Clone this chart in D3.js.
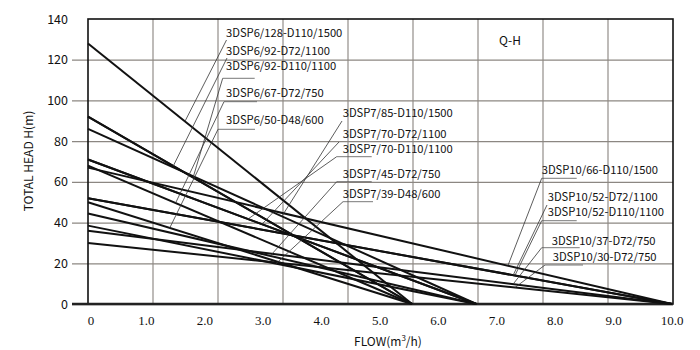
<!DOCTYPE html>
<html>
<head>
<meta charset="utf-8">
<script src="https://cdn.jsdelivr.net/npm/d3@7"></script>
<style>
  body { margin: 0; background: #fff; }
  svg text { font-family: "Noto Sans CJK SC", "Noto Sans", sans-serif; fill: #111; }
  .xtick { font-family: "Liberation Serif", serif !important; }
</style>
</head>
<body>
<div id="qh-chart"></div>
<script>
// ---- data ----
const models = [
  "3DSP6/128-D110/1500", "3DSP6/92-D72/1100", "3DSP6/92-D110/1100", "3DSP6/67-D72/750", "3DSP6/50-D48/600",
  "3DSP7/85-D110/1500", "3DSP7/70-D72/1100", "3DSP7/70-D110/1100", "3DSP7/45-D72/750", "3DSP7/39-D48/600",
  "3DSP10/66-D110/1500", "3DSP10/52-D72/1100", "3DSP10/52-D110/1100", "3DSP10/37-D72/750", "3DSP10/30-D72/750"
];
const shutoffHeads = [128, 92, 92, 68, 50, 86, 71, 71, 44.5, 38.5, 67, 52, 52, 36, 30]; // H at Q=0
const maxFlows = [5.55, 5.55, 5.55, 5.55, 5.55, 6.65, 6.65, 6.65, 6.65, 6.65, 10, 10, 10, 10, 10]; // Q at H=0
const leaderFlows = [1.66, 1.46, 1.8, 1.5, 1.4, 3.32, 2.98, 2.74, 3.12, 3.22, 7.19, 7.28, 7.31, 7.28, 7.31];
const flowTicks = [0, 1, 2, 3, 4, 5, 6, 7, 8, 9, 10];
const headTicks = [0, 20, 40, 60, 80, 100, 120, 140];

// label layout: text x, baseline y, leader start x, leader start y, underline length
const labelLayout = [
  [226, 37, 226.5, 40, 0], [226, 55, 227, 58, 0], [226, 70, 222.7, 78.3, 32],
  [226, 97, 224, 101.7, 33], [226, 123.5, 218, 129.3, 37],
  [342.7, 117, 342, 121, 0], [342.7, 137.5, 339, 142, 0], [342.7, 152.5, 336.7, 156.7, 35],
  [342.7, 178, 336.7, 181.7, 35], [342.7, 198, 343, 201.7, 30],
  [541.7, 174, 541.7, 178.3, 35], [547.7, 200.5, 547, 205, 0], [547.7, 215.5, 541.7, 220.7, 35],
  [551.7, 244.5, 541.7, 247.7, 38], [552.7, 261, 545, 265, 38]
];

function drawChart () {
  const svgWidth = 700, svgHeight = 350;
  const plot = { left: 88, right: 673, top: 19, bottom: 304 };

  const svg = d3.select( "#qh-chart" )
    .append( "svg" )
    .attr( "width", svgWidth )
    .attr( "height", svgHeight );

  svg.append( "rect" ).attr( "width", svgWidth ).attr( "height", svgHeight ).attr( "fill", "#fff" );

  const xScale = d3.scaleLinear().domain( [ 0, 10 ] ).range( [ plot.left, plot.right - 1 ] );
  const yScale = d3.scaleLinear().domain( [ 0, 140 ] ).range( [ plot.bottom, plot.top ] );
  // the sheet's vertical grid has 9 equal columns, not tied to the flow ticks
  const gridScale = d3.scaleLinear().domain( [ 0, 9 ] ).range( [ plot.left, plot.right ] );

  // vertical grid
  svg.append( "g" )
    .selectAll( "line" )
    .data( d3.range( 1, 9 ) )
    .enter().append( "line" )
    .attr( "x1", d => gridScale( d ) ).attr( "x2", d => gridScale( d ) )
    .attr( "y1", plot.top ).attr( "y2", plot.bottom )
    .attr( "stroke", "#9b9793" ).attr( "stroke-width", 1.3 );

  // horizontal grid + ticks, left axis labels
  const yAxis = svg.append( "g" )
    .attr( "transform", `translate(${plot.right}, 0)` )
    .call( d3.axisLeft( yScale )
      .tickValues( headTicks.filter( d => d < 140 ) )
      .tickSize( plot.right - 72 )
      .tickFormat( "" ) );
  yAxis.select( ".domain" ).remove();
  yAxis.selectAll( ".tick line" ).attr( "stroke", "#8c8782" ).attr( "stroke-width", 1.3 );

  svg.append( "g" )
    .selectAll( "text" )
    .data( headTicks )
    .enter().append( "text" )
    .attr( "x", 68 ).attr( "y", d => yScale( d ) + 4.5 )
    .attr( "text-anchor", "end" )
    .style( "font-size", "12.5px" )
    .text( d => d );

  // x tick labels
  svg.append( "g" )
    .selectAll( "text" )
    .data( flowTicks )
    .enter().append( "text" )
    .attr( "class", "xtick" )
    .attr( "x", d => xScale( d ) + ( d === 0 ? 3 : 0 ) )
    .attr( "y", 325 )
    .attr( "text-anchor", "middle" )
    .style( "font-size", "13px" )
    .text( d => d === 0 ? "0" : d3.format( ".1f" )( d ) );

  // frame
  svg.append( "rect" )
    .attr( "x", plot.left ).attr( "y", plot.top )
    .attr( "width", plot.right - plot.left ).attr( "height", plot.bottom - plot.top )
    .attr( "fill", "none" ).attr( "stroke", "#111" ).attr( "stroke-width", 1.6 );
  svg.append( "line" )
    .attr( "x1", 72 ).attr( "x2", plot.right )
    .attr( "y1", plot.bottom ).attr( "y2", plot.bottom )
    .attr( "stroke", "#222" ).attr( "stroke-width", 2.6 );

  // pump curves
  const line = d3.line().x( d => xScale( d[ 0 ] ) ).y( d => yScale( d[ 1 ] ) );
  const curves = models.map( ( m, i ) => [ [ 0, shutoffHeads[ i ] ], [ maxFlows[ i ], 0 ] ] );
  svg.append( "g" )
    .selectAll( "path" )
    .data( curves )
    .enter().append( "path" )
    .attr( "d", line )
    .attr( "fill", "none" )
    .attr( "stroke", "#111" )
    .attr( "stroke-width", 2 );

  // leaders and labels
  const headAt = ( i, q ) => shutoffHeads[ i ] * ( 1 - q / maxFlows[ i ] );
  const labels = svg.append( "g" );
  models.forEach( ( m, i ) => {
    const [ tx, ty, lx, ly, ulen ] = labelLayout[ i ];
    const q = leaderFlows[ i ];
    labels.append( "line" )
      .attr( "x1", lx ).attr( "y1", ly )
      .attr( "x2", xScale( q ) ).attr( "y2", yScale( headAt( i, q ) ) )
      .attr( "stroke", "#333" ).attr( "stroke-width", 0.8 );
    if ( ulen > 0 ) {
      labels.append( "line" )
        .attr( "x1", lx ).attr( "x2", lx + ulen )
        .attr( "y1", ly ).attr( "y2", ly )
        .attr( "stroke", "#555" ).attr( "stroke-width", 0.8 );
    }
    labels.append( "text" )
      .attr( "x", tx ).attr( "y", ty )
      .style( "font-size", "11.2px" )
      .text( m );
  } );

  // titles
  svg.append( "text" )
    .attr( "x", 510 ).attr( "y", 45 )
    .attr( "text-anchor", "middle" )
    .style( "font-size", "12px" )
    .text( "Q-H" );

  svg.append( "text" )
    .attr( "transform", "translate(33, 161) rotate(-90)" )
    .attr( "text-anchor", "middle" )
    .style( "font-size", "12px" )
    .text( "TOTAL HEAD H(m)" );

  const flowTitle = svg.append( "text" )
    .attr( "x", 388 ).attr( "y", 346 )
    .attr( "text-anchor", "middle" )
    .style( "font-size", "12px" );
  flowTitle.append( "tspan" ).text( "FLOW(m" );
  flowTitle.append( "tspan" ).attr( "dy", -5 ).style( "font-size", "8px" ).text( "3" );
  flowTitle.append( "tspan" ).attr( "dy", 5 ).text( "/h)" );
}

drawChart();
</script>
</body>
</html>
